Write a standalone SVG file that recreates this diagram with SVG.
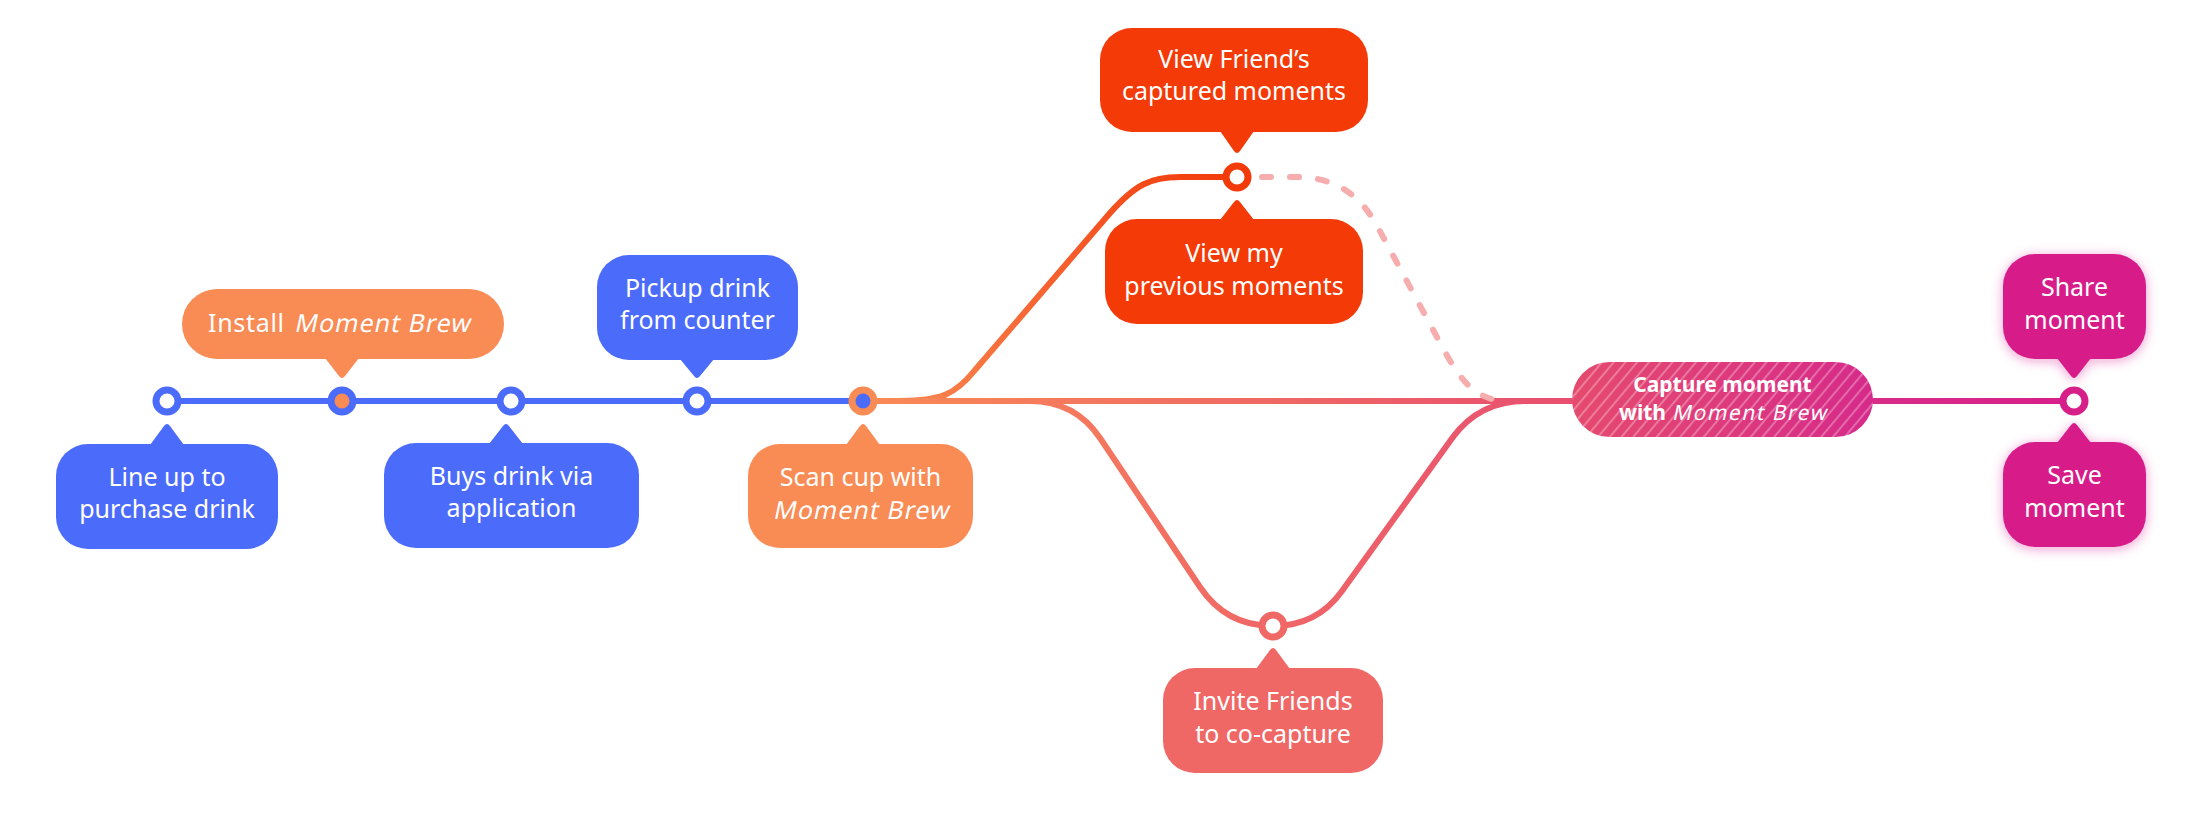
<svg xmlns="http://www.w3.org/2000/svg" width="2200" height="823" viewBox="0 0 2200 823">
<style>
.t{font-family:"Noto Sans","Open Sans","DejaVu Sans",sans-serif;font-size:25px;fill:#fff;text-anchor:middle}
.tb{font-family:"Noto Sans","Open Sans","DejaVu Sans",sans-serif;font-size:21px;font-weight:700;fill:#fff;text-anchor:middle}
.tr{font-family:"Noto Sans","Open Sans","DejaVu Sans",sans-serif;font-size:21px;font-weight:400;fill:#fff;letter-spacing:1.5px}
.s{text-anchor:start}
.mb{letter-spacing:1px}
.blue{fill:#4B6BFB}
.orange{fill:#F98B55}
.red{fill:#F33A07}
.salmon{fill:#F06866}
.mag{fill:#D71F8A}
.ln{fill:none;stroke-width:6;stroke-linecap:round;stroke-linejoin:round}
.nd{stroke-width:7;fill:#fff}
</style>
<defs>
<linearGradient id="gMain" gradientUnits="userSpaceOnUse" x1="863" y1="0" x2="1572" y2="0">
<stop offset="0" stop-color="#F98B55"/><stop offset="1" stop-color="#E84E70"/>
</linearGradient>
<linearGradient id="gLow" gradientUnits="userSpaceOnUse" x1="863" y1="0" x2="1525" y2="0">
<stop offset="0" stop-color="#F98B55"/><stop offset="0.6" stop-color="#F06866"/><stop offset="1" stop-color="#E8526F"/>
</linearGradient>
<linearGradient id="gUp" gradientUnits="userSpaceOnUse" x1="863" y1="401" x2="1237" y2="177">
<stop offset="0" stop-color="#F98B55"/><stop offset="1" stop-color="#F33A0A"/>
</linearGradient>
<linearGradient id="gCap" gradientUnits="userSpaceOnUse" x1="1572" y1="0" x2="1873" y2="0">
<stop offset="0" stop-color="#E54A6E"/><stop offset="1" stop-color="#D62A8A"/>
</linearGradient>
<linearGradient id="gEnd" gradientUnits="userSpaceOnUse" x1="1873" y1="0" x2="2074" y2="0">
<stop offset="0" stop-color="#D82C88"/><stop offset="1" stop-color="#D71F8A"/>
</linearGradient>
<pattern id="hatch" patternUnits="userSpaceOnUse" width="9" height="9" patternTransform="rotate(40)">
<line x1="2" y1="0" x2="2" y2="9" stroke="#fff" stroke-opacity="0.45" stroke-width="1.3"/>
</pattern>
<filter id="glow" x="-40%" y="-40%" width="180%" height="180%">
<feDropShadow dx="0" dy="2" stdDeviation="6" flood-color="#D71F8A" flood-opacity="0.4"/>
</filter>
</defs>

<g id="connectors">
<path class="ln" stroke="#4B6BFB" d="M167 401 H863"/>
<path class="ln" stroke="url(#gMain)" d="M863 401 H1572"/>
<path class="ln" stroke="url(#gUp)" d="M863 401 H900 C940 401 955 395 975 370 L1110 213 C1135 185 1150 177 1180 177 H1237"/>
<path class="ln" stroke="url(#gLow)" d="M863 401 H1030 Q1075 401 1100 438 L1200 587 Q1226 626 1273 626 Q1317 626 1342 591 L1453 437 Q1480 401 1525 401"/>
<path class="ln" stroke="#F5ADAE" stroke-dasharray="9 19" d="M1262 177 H1295 C1332 177 1356 191 1375 222 L1445 352 C1465 388 1480 401 1510 401"/>
<path class="ln" stroke="url(#gEnd)" d="M1873 401 H2074"/>
</g>

<g id="n-lineup">
<circle class="nd" cx="167" cy="401" r="11" stroke="#4B6BFB"/>
<rect class="blue" x="56" y="444" width="222" height="105" rx="32"/>
<path class="blue" d="M150 445 L164 426 Q167 422 170 426 L184 445 Z"/>
<text class="t" x="167" y="486">Line up to</text>
<text class="t" x="167" y="518">purchase drink</text>
</g>

<g id="n-install">
<circle cx="342" cy="401" r="11" stroke="#4B6BFB" stroke-width="7" fill="#F98B55"/>
<rect class="orange" x="182" y="289" width="322" height="70" rx="35"/>
<path class="orange" d="M325 358 L339 376 Q342 380 345 376 L359 358 Z"/>
<text class="t s" x="208" y="332" letter-spacing="0.7">Install</text>
<g transform="translate(294,332) skewX(-12)"><text class="t s mb" x="0" y="0">Moment Brew</text></g>
</g>

<g id="n-buys">
<circle class="nd" cx="511" cy="401" r="11" stroke="#4B6BFB"/>
<rect class="blue" x="384" y="443" width="255" height="105" rx="32"/>
<path class="blue" d="M489 444 L503 426 Q506 422 509 426 L523 444 Z"/>
<text class="t" x="511.5" y="485">Buys drink via</text>
<text class="t" x="511.5" y="517">application</text>
</g>

<g id="n-pickup">
<circle class="nd" cx="697" cy="401" r="11" stroke="#4B6BFB"/>
<rect class="blue" x="597" y="255" width="201" height="105" rx="32"/>
<path class="blue" d="M680 359 L694 376 Q697 380 700 376 L714 359 Z"/>
<text class="t" x="697.5" y="297">Pickup drink</text>
<text class="t" x="697.5" y="329">from counter</text>
</g>

<g id="n-scan">
<circle cx="863" cy="401" r="11" stroke="#F98B55" stroke-width="7" fill="#4B6BFB"/>
<rect class="orange" x="748" y="444" width="225" height="104" rx="32"/>
<path class="orange" d="M846 445 L860 426 Q863 422 866 426 L880 445 Z"/>
<text class="t" x="860.5" y="486">Scan cup with</text>
<g transform="translate(861,519) skewX(-12)"><text class="t mb" x="0" y="0">Moment Brew</text></g>
</g>

<g id="n-friends">
<circle class="nd" cx="1237" cy="177" r="11" stroke="#F33A0A"/>
<rect class="red" x="1100" y="28" width="268" height="104" rx="32"/>
<path class="red" d="M1220 131 L1234 151 Q1237 155 1240 151 L1254 131 Z"/>
<text class="t" x="1234" y="68">View Friend’s</text>
<text class="t" x="1234" y="100">captured moments</text>
</g>

<g id="n-mine">
<rect class="red" x="1105" y="219" width="258" height="105" rx="32"/>
<path class="red" d="M1220 220 L1234 202 Q1237 198 1240 202 L1254 220 Z"/>
<text class="t" x="1234" y="262">View my</text>
<text class="t" x="1234" y="295">previous moments</text>
</g>

<g id="n-invite">
<circle class="nd" cx="1273" cy="626" r="11" stroke="#F06866"/>
<rect class="salmon" x="1163" y="668" width="220" height="105" rx="32"/>
<path class="salmon" d="M1256 669 L1270 650 Q1273 646 1276 650 L1290 669 Z"/>
<text class="t" x="1273" y="710">Invite Friends</text>
<text class="t" x="1273" y="743">to co-capture</text>
</g>

<g id="n-capture">
<rect x="1572" y="362" width="301" height="75" rx="37.5" fill="url(#gCap)"/>
<rect x="1572" y="362" width="301" height="75" rx="37.5" fill="url(#hatch)"/>
<text class="tb" x="1722.5" y="392">Capture moment</text>
<text class="tb s" x="1619" y="420">with</text>
<g transform="translate(1672,420) skewX(-12)"><text class="tr" x="0" y="0">Moment Brew</text></g>
</g>

<g id="n-share">
<circle class="nd" cx="2074" cy="401" r="11" stroke="#D71F8A"/>
<g filter="url(#glow)">
<rect class="mag" x="2003" y="254" width="143" height="105" rx="32"/>
<path class="mag" d="M2057 358 L2071 376 Q2074 380 2077 376 L2091 358 Z"/>
</g>
<text class="t" x="2074.5" y="296">Share</text>
<text class="t" x="2074.5" y="329">moment</text>
</g>

<g id="n-save">
<g filter="url(#glow)">
<rect class="mag" x="2003" y="442" width="143" height="105" rx="32"/>
<path class="mag" d="M2057 443 L2071 425 Q2074 421 2077 425 L2091 443 Z"/>
</g>
<text class="t" x="2074.5" y="484">Save</text>
<text class="t" x="2074.5" y="517">moment</text>
</g>
</svg>
